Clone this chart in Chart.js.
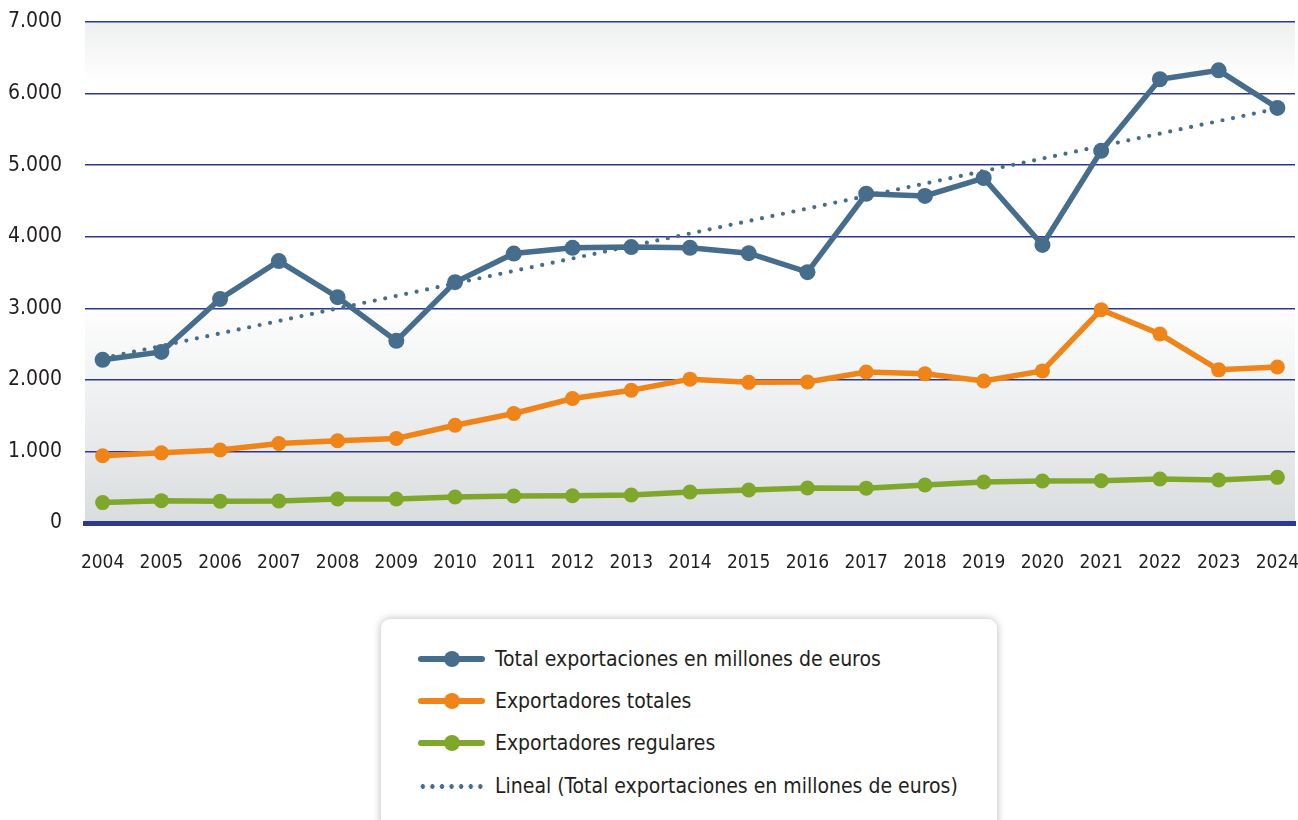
<!DOCTYPE html>
<html lang="es">
<head>
<meta charset="utf-8">
<title>Exportaciones 2004-2024</title>
<script src="https://cdn.jsdelivr.net/npm/chart.js@4.4.1/dist/chart.umd.min.js"></script>
<style>
  html, body { margin: 0; padding: 0; background: #fff; }
  body { width: 1298px; height: 820px; position: relative; overflow: hidden;
         font-family: "DejaVu Sans Condensed", "Liberation Sans Narrow", "Roboto", sans-serif; }
  #wrap { position: absolute; left: 0; top: 0; width: 1298px; height: 600px; }
  #legend { position: absolute; left: 381px; top: 619px; width: 616px; height: 230px;
            background: #fff; border-radius: 9px; box-shadow: 0 0 9px rgba(0,0,0,.28); }
  .item { position: absolute; left: 0; height: 30px; }
  .item .sample { position: absolute; left: 37px; top: 12px; width: 67px; height: 6px; border-radius: 3px; }
  .item .dot { position: absolute; left: 26px; top: -5px; width: 16px; height: 16px; border-radius: 50%; }
  .item .sample.dotted { height: 5px; top: 13px; border-radius: 0;
            background: radial-gradient(circle, #466d8c 2.1px, transparent 2.6px) 0 0 / 9.6px 5px repeat-x; }
  .item .txt { position: absolute; left: 114px; top: 0; line-height: 30px; font-size: 21px; color: #231f20; white-space: nowrap; }
</style>
</head>
<body>
<div id="wrap"><canvas id="chart" width="1298" height="600"></canvas></div>
<div id="legend"></div>
<script>
/* ──────────────────────────────────────────────
   Exportaciones: total en millones de euros y número de exportadores
   ────────────────────────────────────────────── */

const YEARS = [2004, 2005, 2006, 2007, 2008, 2009, 2010, 2011, 2012, 2013, 2014,
               2015, 2016, 2017, 2018, 2019, 2020, 2021, 2022, 2023, 2024];

// Total exportaciones en millones de euros
const TOTAL_EXPORT = [2280, 2390, 3130, 3660, 3155, 2545, 3365, 3765, 3845, 3855, 3845,
                      3770, 3505, 4600, 4570, 4820, 3885, 5200, 6200, 6325, 5800];

// Exportadores totales
const EXPORT_TOTALES = [940, 980, 1020, 1110, 1150, 1180, 1365, 1530, 1740, 1855, 2010,
                        1965, 1970, 2110, 2085, 1985, 2125, 2980, 2640, 2140, 2180];

// Exportadores regulares
const EXPORT_REGULARES = [285, 312, 305, 307, 335, 335, 363, 377, 380, 391, 433,
                          461, 489, 487, 531, 573, 587, 591, 615, 601, 638];

// Lineal (tendencia del total): extremos 2004 y 2024
const TREND_YEARS = [2004, 2024];
const TREND_VALUES = [2300, 5790];

const Y_TICKS = [0, 1000, 2000, 3000, 4000, 5000, 6000, 7000];

const COLORS = {
  total:     "#466d8c",
  totales:   "#ef8518",
  regulares: "#7fa72c",
  grid:      "#2e3790",
  axis:      "#2b3a8e",
  text:      "#231f20",
};

const FONT = '"DejaVu Sans Condensed", "Liberation Sans Narrow", "Roboto", sans-serif';

const toXY = (xs, ys) => xs.map((x, i) => ({ x, y: ys[i] }));

// ── FONDO DEGRADADO DEL ÁREA ──────────────────

const fondoPlugin = {
  id: "fondo",
  beforeDraw(chart) {
    const { ctx, chartArea: a, scales: { y } } = chart;
    ctx.save();
    // franja superior: gris arriba -> blanco
    const y1 = y.getPixelForValue(6150);
    let g = ctx.createLinearGradient(0, a.top, 0, y1);
    g.addColorStop(0, "#eeeff0");
    g.addColorStop(1, "#ffffff");
    ctx.fillStyle = g;
    ctx.fillRect(a.left, a.top, a.right - a.left, y1 - a.top);
    // parte inferior: blanco -> gris
    const y2 = y.getPixelForValue(3150);
    g = ctx.createLinearGradient(0, y2, 0, a.bottom);
    g.addColorStop(0, "#ffffff");
    g.addColorStop(1, "#dadddf");
    ctx.fillStyle = g;
    ctx.fillRect(a.left, y2, a.right - a.left, a.bottom - y2);
    ctx.restore();
  }
};

function fmtMiles(v) {
  return String(v).replace(/\B(?=(\d{3})+(?!\d))/g, ".");
}

const lineStyle = (color, r) => ({
  borderColor: color,
  backgroundColor: color,
  borderWidth: 5.5,
  pointRadius: r,
  pointHoverRadius: r,
  pointBorderWidth: 0,
  tension: 0,
  fill: false,
});

const chart = new Chart(document.getElementById("chart"), {
  type: "line",
  data: {
    datasets: [
      { label: "Lineal (Total exportaciones en millones de euros)",
        data: toXY(TREND_YEARS, TREND_VALUES),
        borderColor: COLORS.total, borderWidth: 4.2, borderDash: [0, 10.7],
        borderCapStyle: "round", pointRadius: 0, fill: false, order: 0 },
      { label: "Total exportaciones en millones de euros",
        data: toXY(YEARS, TOTAL_EXPORT), ...lineStyle(COLORS.total, 8), order: 1 },
      { label: "Exportadores totales",
        data: toXY(YEARS, EXPORT_TOTALES), ...lineStyle(COLORS.totales, 7.5), order: 2 },
      { label: "Exportadores regulares",
        data: toXY(YEARS, EXPORT_REGULARES), ...lineStyle(COLORS.regulares, 7.5), order: 3 },
    ]
  },
  options: {
    responsive: false,
    animation: false,
    layout: { autoPadding: false, padding: { top: 22, right: 3, left: 0, bottom: 0 } },
    plugins: { legend: { display: false }, tooltip: { enabled: false } },
    scales: {
      x: {
        type: "linear",
        min: 2003.7,
        max: 2024.3,
        afterBuildTicks: s => { s.ticks = YEARS.map(v => ({ value: v })); },
        afterFit: s => {
          s.height = 77;
          s.paddingLeft = 0; s.paddingRight = 0;
        },
        grid: { display: false, drawTicks: false },
        border: { display: true, color: COLORS.axis, width: 5 },
        ticks: {
          padding: 29,
          color: COLORS.text,
          font: { family: FONT, size: 19 },
          maxRotation: 0,
          autoSkip: false,
          callback: v => String(v),
        }
      },
      y: {
        min: 0,
        max: 7000,
        afterBuildTicks: s => { s.ticks = Y_TICKS.map(v => ({ value: v })); },
        afterFit: s => {
          s.width = 85;
          s.paddingTop = 0; s.paddingBottom = 0;
        },
        grid: {
          color: ctx => ctx.tick && ctx.tick.value === 0 ? "rgba(0,0,0,0)" : COLORS.grid,
          lineWidth: 1.5,
          drawTicks: false,
        },
        border: { display: false },
        ticks: {
          padding: 23,
          color: COLORS.text,
          font: { family: FONT, size: 21 },
          callback: v => fmtMiles(v),
        }
      }
    }
  },
  plugins: [fondoPlugin]
});

// ── LEYENDA HTML ──────────────────────────────

const LEGEND_ORDER = [1, 2, 3, 0];
const ROW_TOP = [25, 67, 109, 152];
const legend = document.getElementById("legend");
LEGEND_ORDER.forEach((idx, i) => {
  const ds = chart.data.datasets[idx];
  const item = document.createElement("div");
  item.className = "item";
  item.style.top = ROW_TOP[i] + "px";
  const sample = document.createElement("div");
  if (idx === 0) {
    sample.className = "sample dotted";
  } else {
    sample.className = "sample";
    sample.style.background = ds.borderColor;
    const dot = document.createElement("div");
    dot.className = "dot";
    dot.style.background = ds.borderColor;
    sample.appendChild(dot);
  }
  const txt = document.createElement("div");
  txt.className = "txt";
  txt.textContent = ds.label;
  item.appendChild(sample);
  item.appendChild(txt);
  legend.appendChild(item);
});
</script>
</body>
</html>
